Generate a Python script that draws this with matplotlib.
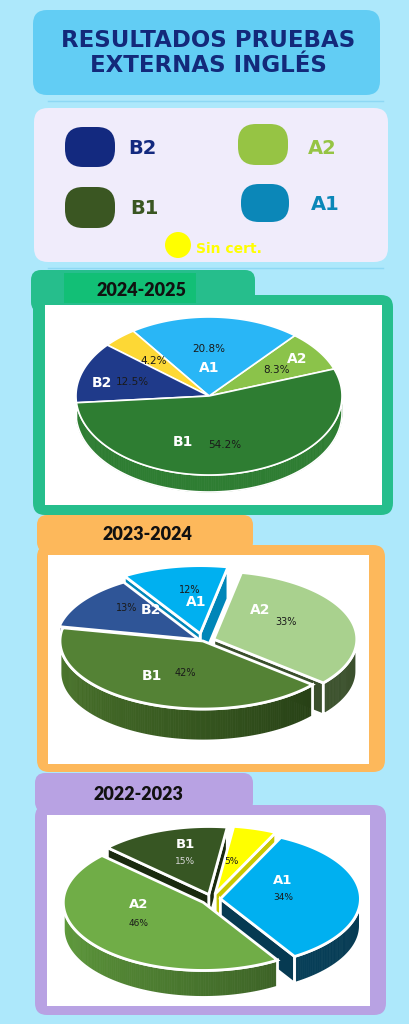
import numpy as np
import matplotlib
matplotlib.use('Agg')
import matplotlib.pyplot as plt
from matplotlib.patches import FancyBboxPatch, Polygon, Rectangle, Circle
from matplotlib.colors import to_rgb

# --- data ---
title = 'RESULTADOS PRUEBAS\nEXTERNAS INGLÉS'
legend_labels = ['B2', 'A2', 'B1', 'A1', 'Sin cert.']
years = ['2024-2025', '2023-2024', '2022-2023']

levels_2425 = ['A2', 'A1', 'Sin cert.', 'B2', 'B1']
values_2425 = [8.3, 20.8, 4.2, 12.5, 54.2]

levels_2324 = ['A2', 'A1', 'B2', 'B1']
values_2324 = [33, 12, 13, 42]

levels_2223 = ['A1', 'Sin cert.', 'B1', 'A2']
values_2223 = [34, 5, 15, 46]

# --- styles ---
BG = '#ADE8FB'
legend_colors = {'B2': '#13297F', 'A2': '#96C444', 'B1': '#3A5622',
                 'A1': '#0B87B8', 'Sin cert.': '#FFFF00'}

pie1 = dict(cx=209, cy=396, rx=133, ry=79, depth=17, start=20, lw=1.2,
            top={'A2': '#8BC34A', 'A1': '#29B6F6', 'Sin cert.': '#FDD835',
                 'B2': '#1F3A8A', 'B1': '#2E7D32'},
            side={'A2': ('#7CB342', '#7CB342'), 'A1': ('#1E9FD8', '#1E9FD8'),
                  'Sin cert.': ('#E6C21F', '#E6C21F'), 'B2': ('#1F3A8A', '#1F3A8A'),
                  'B1': ('#2E7D32', '#2E7D32')},
            explode={},
            names={'A1': (209, 368), 'A2': (297, 359), 'B2': (102, 383), 'B1': (183, 442)},
            pcts={'A1': (209, 349), 'A2': (277, 370), 'Sin cert.': (154, 361),
                  'B2': (132, 382), 'B1': (225, 445)},
            pct_color={}, pct_size=7.5, name_size=10)

pie2 = dict(cx=203, cy=641, rx=143, ry=68, depth=32, start=-40, lw=2,
            top={'A2': '#A9D18E', 'A1': '#00B0F0', 'B2': '#2F5597', 'B1': '#548235'},
            side={'A2': ('#4A6338', '#3A4F2C'), 'A1': ('#0086B8', '#0086B8'),
                  'B2': ('#1A2E55', '#1A2E55'), 'B1': ('#4E7A2E', '#1C300F')},
            explode={'A2': 0.08, 'A1': 0.11, 'B2': 0.03, 'B1': 0.0},
            names={'B2': (151, 610), 'A1': (196, 602), 'A2': (260, 610), 'B1': (152, 676)},
            pcts={'B2': (127, 608), 'A1': (190, 590), 'A2': (286, 622), 'B1': (185, 673)},
            pct_color={}, pct_size=7, name_size=10)

pie3 = dict(cx=212, cy=899, rx=140, ry=68, depth=27, start=-58, lw=2,
            top={'A1': '#00B0F0', 'Sin cert.': '#FFFF00', 'B1': '#375623', 'A2': '#70AD47'},
            side={'A1': ('#0B4A66', '#063A52'), 'Sin cert.': ('#C8C800', '#C8C800'),
                  'B1': ('#1A2A0F', '#1A2A0F'), 'A2': ('#62A03E', '#2B451B')},
            explode={'A1': 0.06, 'Sin cert.': 0.08, 'B1': 0.07, 'A2': 0.08},
            names={'B1': (185, 845), 'A1': (283, 880), 'A2': (139, 904)},
            pcts={'B1': (185, 862), 'Sin cert.': (231, 862), 'A1': (283, 897), 'A2': (139, 923)},
            pct_color={'B1': '#D8D8D8'}, pct_size=6.5, name_size=9.5)


def mix(c1, c2, f):
    a, b = np.array(to_rgb(c1)), np.array(to_rgb(c2))
    return tuple(a + (b - a) * f)


def pie3d(ax, levels, values, st):
    cx, cy, rx, ry, d = st['cx'], st['cy'], st['rx'], st['ry'], st['depth']
    total = float(sum(values))
    edges = st['start'] + 360 * np.concatenate([[0], np.cumsum(values)]) / total
    sides, tops = [], []
    for i, lev in enumerate(levels):
        t1, t2 = edges[i], edges[i + 1]
        mid = np.radians((t1 + t2) / 2)
        e = st['explode'].get(lev, 0)
        ox, oy = cx + e * rx * np.cos(mid), cy - e * ry * np.sin(mid)

        def pt(t, dz=0, ox=ox, oy=oy):
            r = np.radians(t)
            return (ox + rx * np.cos(r), oy - ry * np.sin(r) + dz)

        light, dark = st['side'][lev]
        ts = np.linspace(t1, t2, max(3, int(t2 - t1) + 1))
        tops.append((lev, [(ox, oy)] + [pt(t) for t in ts]))
        # radial faces
        if np.cos(np.radians(t1)) > 0:
            q = [(ox, oy), pt(t1), pt(t1, d), (ox, oy + d)]
            sides.append((np.mean([p[1] for p in q]), 'face', q, dark))
        if np.cos(np.radians(t2)) < 0:
            q = [(ox, oy), pt(t2), pt(t2, d), (ox, oy + d)]
            sides.append((np.mean([p[1] for p in q]), 'face', q, dark))
        # outer wall on the front half
        for k in range(-1, 3):
            a, b = max(t1, 180 + 360 * k), min(t2, 360 + 360 * k)
            if b > a:
                ws = np.linspace(a, b, max(3, int(b - a) + 1))
                top = [pt(t) for t in ws]
                bot = [pt(t, d) for t in ws[::-1]]
                key = np.mean([p[1] for p in top + bot]) + d
                sides.append((key, 'wall', (ws, top, bot, pt, light, dark, 180 + 360 * k), None))
    sides.sort(key=lambda s: s[0])
    for key, kind, data, col in sides:
        if kind == 'face':
            ax.add_patch(Polygon(data, closed=True, fc=col, ec='white', lw=st['lw'], zorder=5))
        else:
            ws, top, bot, pt, light, dark, base = data
            for j in range(len(ws) - 1):
                f = np.clip(((ws[j] + ws[j + 1]) / 2 - base) / 180, 0, 1)
                q = [pt(ws[j]), pt(ws[j + 1]), pt(ws[j + 1], d), pt(ws[j], d)]
                c = mix(light, dark, f)
                ax.add_patch(Polygon(q, closed=True, fc=c, ec=c, lw=0.5, zorder=5))
            ax.add_patch(Polygon(top + bot, closed=True, fc='none', ec='white',
                                 lw=st['lw'], zorder=5))
    for lev, poly in tops:
        ax.add_patch(Polygon(poly, closed=True, fc=st['top'][lev], ec='white',
                             lw=st['lw'], zorder=6))
    for lev, v in zip(levels, values):
        if lev in st['names']:
            x, y = st['names'][lev]
            ax.text(x, y, lev, color='white', fontsize=st['name_size'], fontweight='bold',
                    ha='center', va='center', zorder=8)
        if lev in st['pcts']:
            x, y = st['pcts'][lev]
            s = ('%.1f%%' % v) if isinstance(v, float) else ('%d%%' % v)
            ax.text(x, y, s, color=st['pct_color'].get(lev, '#1A1A1A'), fontsize=st['pct_size'],
                    ha='center', va='center', zorder=8)


def rbox(ax, x0, y0, x1, y1, color, r=12, z=1):
    ax.add_patch(FancyBboxPatch((x0, y0), x1 - x0, y1 - y0,
                                boxstyle='round,pad=0,rounding_size=%g' % r,
                                fc=color, ec='none', zorder=z))


fig = plt.figure(figsize=(4.1, 10.24), dpi=100)
ax = fig.add_axes([0, 0, 1, 1])
ax.set_xlim(0, 410)
ax.set_ylim(1024, 0)
ax.axis('off')
ax.add_patch(Rectangle((0, 0), 410, 1024, fc=BG, ec='none', zorder=0))

# title
rbox(ax, 33, 10, 380, 95, '#62CDF4', r=14)
ax.text(208, 53, title, ha='center', va='center', fontsize=16.5, fontweight='bold',
        family='DejaVu Sans', color='#13297A', linespacing=1.1, zorder=3)
ax.plot([48, 383], [101, 101], color='#8ED8F4', lw=1, zorder=2)

# legend
rbox(ax, 34, 108, 388, 262, '#F0ECFB', r=14)
pills = {'B2': (65, 127, 115, 167), 'A2': (238, 124, 288, 165),
         'B1': (65, 187, 115, 228), 'A1': (241, 184, 289, 222)}
label_pos = {'B2': (128, 149), 'A2': (308, 149), 'B1': (130, 209), 'A1': (311, 204)}
for lab in legend_labels[:4]:
    x0, y0, x1, y1 = pills[lab]
    rbox(ax, x0, y0, x1, y1, legend_colors[lab], r=18, z=3)
    ax.text(*label_pos[lab], lab, color=legend_colors[lab], fontsize=14, fontweight='bold',
            family='DejaVu Sans', ha='left', va='center', zorder=4)
ax.add_patch(Circle((178, 245), 13, fc=legend_colors['Sin cert.'], ec='none', zorder=3))
ax.text(196, 249, legend_labels[4], color=legend_colors['Sin cert.'], fontsize=10,
        fontweight='bold', family='DejaVu Sans', ha='left', va='center', zorder=4)
ax.plot([48, 383], [268, 268], color='#8ED8F4', lw=1, zorder=2)

# section frames
sections = [
    dict(col='#26BE8C', tab=(31, 270, 255, 312), box=(33, 295, 393, 515),
         inner=(45, 305, 382, 505), yt=(142, 290)),
    dict(col='#FDB85B', tab=(37, 515, 253, 552), box=(37, 545, 385, 772),
         inner=(48, 555, 369, 764), yt=(147, 535)),
    dict(col='#B8A2E3', tab=(35, 773, 253, 812), box=(35, 805, 386, 1015),
         inner=(47, 815, 370, 1006), yt=(138, 795)),
]
for s, yr in zip(sections, years):
    rbox(ax, *s['tab'], s['col'], r=10, z=1)
    rbox(ax, *s['box'], s['col'], r=12, z=1)
    x0, y0, x1, y1 = s['inner']
    ax.add_patch(Rectangle((x0, y0), x1 - x0, y1 - y0, fc='white', ec='none', zorder=2))
ax.add_patch(Rectangle((64, 273), 132, 30, fc='#12BF76', ec='none', zorder=2))
for s, yr in zip(sections, years):
    ax.text(*s['yt'], yr, ha='center', va='center', fontsize=13, fontweight='heavy',
            family='Lato', color='#111111', zorder=4)

pie3d(ax, levels_2425, values_2425, pie1)
pie3d(ax, levels_2324, values_2324, pie2)
pie3d(ax, levels_2223, values_2223, pie3)

fig.savefig('out.png', dpi=100)
